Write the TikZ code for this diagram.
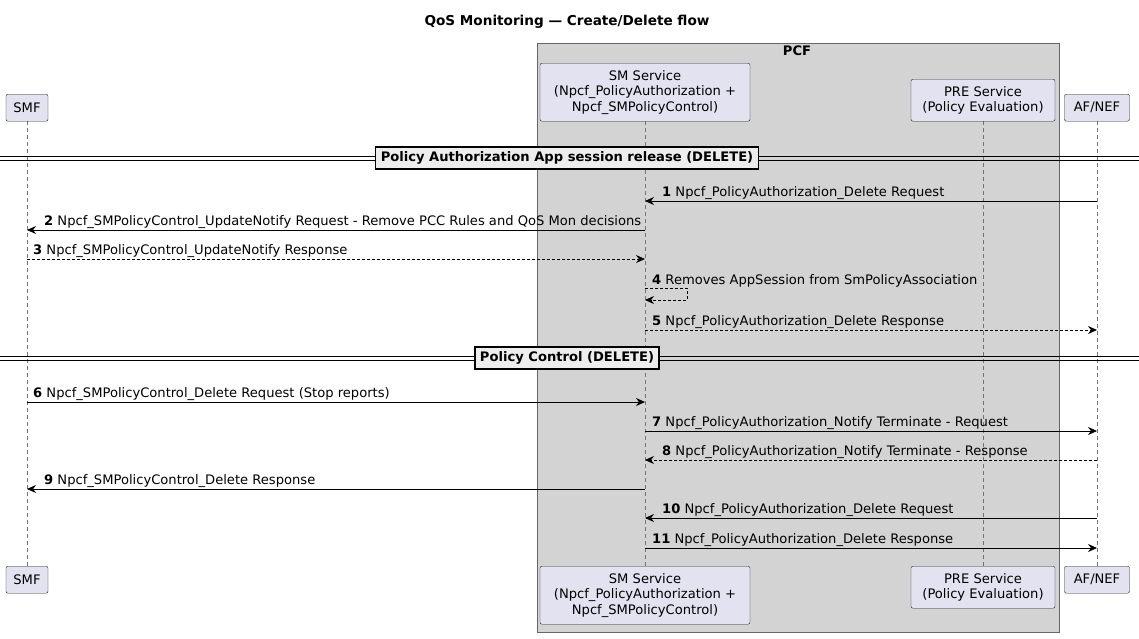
\documentclass[tikz,border=0pt]{standalone}
\usepackage{fontspec}
\setmainfont{DejaVu Sans}
\usetikzlibrary{arrows.meta}
\begin{document}
\begin{tikzpicture}[x=1pt,y=-1pt,
  every node/.style={font=\fontsize{13.1}{15.5}\selectfont},
  part/.style={draw=black!85,fill={rgb,255:red,226;green,226;blue,240},rounded corners=2pt,inner sep=0pt,align=center,anchor=north},
  life/.style={dash pattern=on 4pt off 3pt,draw=black!55,line width=0.6pt},
  msg/.style={-{Stealth[length=9pt,width=8pt,inset=3pt]},line width=0.8pt},
  rmsg/.style={msg,dash pattern=on 3pt off 2pt},
  lbl/.style={anchor=south west,inner sep=1pt},
  div/.style={draw,line width=1.4pt,fill=black!7,font=\fontsize{13.1}{15.5}\selectfont\bfseries,inner xsep=5pt,minimum height=22pt}]
\useasboundingbox (0,0) rectangle (1139,638);
\fill[white] (0,0) rectangle (1139,638);
\node[font=\fontsize{13.6}{16}\selectfont\bfseries] (title) at (567,22) {QoS Monitoring — Create/Delete flow};
\node[draw=black!60,fill={rgb,255:red,211;green,211;blue,211},minimum width=522pt,minimum height=589pt,anchor=north west,inner sep=0pt] (pcf) at (537,43) {};
\node[font=\fontsize{13.1}{15.5}\selectfont\bfseries,anchor=north] (pcfl) at (797,42) {PCF};
\coordinate (L1) at (27,0);
\coordinate (L2) at (645,0);
\coordinate (L3) at (983,0);
\coordinate (L4) at (1097,0);
\draw[life] (27,121) -- (27,566);
\draw[life] (645,121) -- (645,566);
\draw[life] (983,121) -- (983,566);
\draw[life] (1097,121) -- (1097,566);
\node[part,minimum width=42pt,minimum height=27pt] (smf) at (27,94) {SMF};
\node[part,minimum width=210pt,minimum height=58pt] (sm) at (645,63) {SM Service\\(Npcf\_PolicyAuthorization +\\Npcf\_SMPolicyControl)};
\node[part,minimum width=144pt,minimum height=42pt] (pre) at (983,79) {PRE Service\\(Policy Evaluation)};
\node[part,minimum width=65pt,minimum height=27pt] (af) at (1097,94) {AF/NEF};
\node[part,minimum width=42pt,minimum height=27pt] (smfb) at (27,566) {SMF};
\node[part,minimum width=210pt,minimum height=58pt] (smb) at (645,566) {SM Service\\(Npcf\_PolicyAuthorization +\\Npcf\_SMPolicyControl)};
\node[part,minimum width=144pt,minimum height=42pt] (preb) at (983,566) {PRE Service\\(Policy Evaluation)};
\node[part,minimum width=65pt,minimum height=27pt] (afb) at (1097,566) {AF/NEF};
\draw[line width=0.8pt] (0,156) -- (1139,156) (0,160) -- (1139,160);
\node[div] (d1) at (567,158) {Policy Authorization App session release (DELETE)};
\draw[msg] (L4 |- 0,201) -- (L2 |- 0,201);
\node[lbl] (t1) at (661,201) {\textbf{1} Npcf\_PolicyAuthorization\_Delete Request};
\draw[msg] (L2 |- 0,230) -- (L1 |- 0,230);
\node[lbl] (t2) at (43,230) {\textbf{2} Npcf\_SMPolicyControl\_UpdateNotify Request - Remove PCC Rules and QoS Mon decisions};
\draw[rmsg] (L1 |- 0,259) -- (L2 |- 0,259);
\node[lbl] (t3) at (32,259) {\textbf{3} Npcf\_SMPolicyControl\_UpdateNotify Response};
\draw[rmsg] (L2 |- 0,288) -- (687,288) -- (687,300) -- (L2 |- 0,300);
\node[lbl] (t4) at (651,288) {\textbf{4} Removes AppSession from SmPolicyAssociation};
\draw[rmsg] (L2 |- 0,330) -- (L4 |- 0,330);
\node[lbl] (t5) at (651,330) {\textbf{5} Npcf\_PolicyAuthorization\_Delete Response};
\draw[line width=0.8pt] (0,356) -- (1139,356) (0,360) -- (1139,360);
\node[div] (d2) at (567,358) {Policy Control (DELETE)};
\draw[msg] (L1 |- 0,402) -- (L2 |- 0,402);
\node[lbl] (t6) at (32,402) {\textbf{6} Npcf\_SMPolicyControl\_Delete Request (Stop reports)};
\draw[msg] (L2 |- 0,431) -- (L4 |- 0,431);
\node[lbl] (t7) at (651,431) {\textbf{7} Npcf\_PolicyAuthorization\_Notify Terminate - Request};
\draw[rmsg] (L4 |- 0,460) -- (L2 |- 0,460);
\node[lbl] (t8) at (661,460) {\textbf{8} Npcf\_PolicyAuthorization\_Notify Terminate - Response};
\draw[msg] (L2 |- 0,489) -- (L1 |- 0,489);
\node[lbl] (t9) at (43,489) {\textbf{9} Npcf\_SMPolicyControl\_Delete Response};
\draw[msg] (L4 |- 0,518) -- (L2 |- 0,518);
\node[lbl] (t10) at (661,518) {\textbf{10} Npcf\_PolicyAuthorization\_Delete Request};
\draw[msg] (L2 |- 0,548) -- (L4 |- 0,548);
\node[lbl] (t11) at (651,548) {\textbf{11} Npcf\_PolicyAuthorization\_Delete Response};
\end{tikzpicture}
\end{document}
